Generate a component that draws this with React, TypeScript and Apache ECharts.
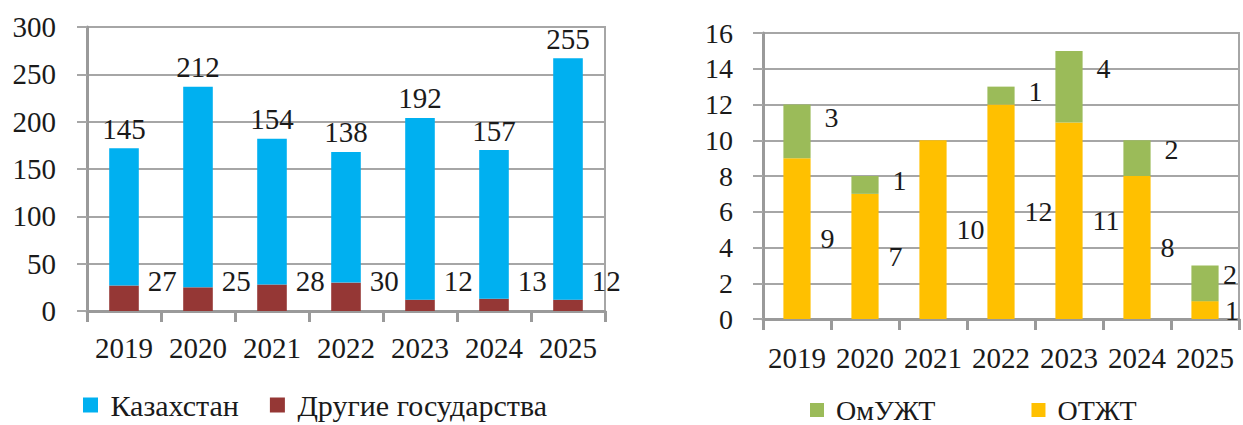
import React, { useEffect, useRef } from "react";
import * as echarts from "echarts";

const years = ["2019", "2020", "2021", "2022", "2023", "2024", "2025"];
const kazakhstan = [145, 212, 154, 138, 192, 157, 255];
const otherStates = [27, 25, 28, 30, 12, 13, 12];
const otzht = [9, 7, 10, 12, 11, 8, 1];
const omuzht = [3, 1, 0, 1, 4, 2, 2];

const FONT = "'Liberation Serif', 'Times New Roman', serif";
const GRID_COLOR = "#a6a6a6";
const AXIS_COLOR = "#9a9a9a";
const TXT = "#1a1a1a";

export default function App() {
  const ref = useRef<HTMLDivElement>(null);
  useEffect(() => {
    document.body.style.margin = "0";
    const chart = echarts.init(ref.current!, null, { renderer: "svg" });
    const axisLabel = { color: TXT, fontFamily: FONT, fontSize: 29 };
    const catAxis = (gridIndex: number, margin: number) => ({
      type: "category",
      gridIndex,
      data: years,
      axisLine: { lineStyle: { color: AXIS_COLOR, width: 3 } },
      axisTick: { show: true, length: 11, lineStyle: { color: AXIS_COLOR, width: 3 } },
      axisLabel: { ...axisLabel, margin, interval: 0 },
    });
    const valAxis = (gridIndex: number, max: number, interval: number, margin: number, fontSize: number) => ({
      type: "value",
      gridIndex,
      min: 0,
      max,
      interval,
      axisLine: { show: true, lineStyle: { color: AXIS_COLOR, width: 3 } },
      axisTick: { show: true, length: 10, lineStyle: { color: GRID_COLOR, width: 2 } },
      splitLine: { lineStyle: { color: GRID_COLOR, width: 2 } },
      axisLabel: { ...axisLabel, fontSize, margin },
    });
    const lbl = { color: TXT, fontFamily: FONT, fontSize: 29 };
    chart.setOption({
      animation: false,
      textStyle: { fontFamily: FONT },
      grid: [
        { left: 87, right: 638, top: 27, bottom: 114, show: true, borderColor: GRID_COLOR, borderWidth: 2 },
        { left: 763, right: 4, top: 33, bottom: 106, show: true, borderColor: GRID_COLOR, borderWidth: 2 },
      ],
      xAxis: [catAxis(0, 22), catAxis(1, 24)],
      yAxis: [valAxis(0, 300, 50, 31, 29), valAxis(1, 16, 2, 30, 28)],
      legend: [
        {
          data: ["Казахстан", "Другие государства"],
          left: 83,
          top: 390,
          padding: 0,
          itemWidth: 15,
          itemHeight: 15,
          itemGap: 31,
          icon: "rect",
          formatter: (n: string) => " " + n,
          textStyle: { color: TXT, fontFamily: FONT, fontSize: 30 },
        },
        {
          data: ["ОмУЖТ", "ОТЖТ"],
          left: 810,
          top: 396,
          padding: 0,
          itemWidth: 14,
          itemHeight: 14,
          itemGap: 96,
          icon: "rect",
          formatter: (n: string) => " " + n,
          textStyle: { color: TXT, fontFamily: FONT, fontSize: 28 },
        },
      ],
      series: [
        {
          name: "Другие государства",
          type: "bar",
          stack: "a",
          xAxisIndex: 0,
          yAxisIndex: 0,
          barWidth: "40%",
          data: otherStates,
          itemStyle: { color: "#953735" },
          label: { show: true, ...lbl },
          labelLayout: (p: any) => ({
            x: p.rect.x + p.rect.width + 9,
            y: p.rect.y + p.rect.height - 30,
            align: "left",
            verticalAlign: "middle",
          }),
        },
        {
          name: "Казахстан",
          type: "bar",
          stack: "a",
          xAxisIndex: 0,
          yAxisIndex: 0,
          barWidth: "40%",
          data: kazakhstan,
          itemStyle: { color: "#00b0f0" },
          label: { show: true, position: "top", distance: 5, ...lbl },
        },
        {
          name: "ОТЖТ",
          type: "bar",
          stack: "b",
          xAxisIndex: 1,
          yAxisIndex: 1,
          barWidth: "40%",
          data: otzht,
          itemStyle: { color: "#ffc000" },
          label: { show: true, ...lbl, fontSize: 28 },
          labelLayout: (p: any) => ({
            x: Math.min(p.rect.x + p.rect.width + 10, chart.getWidth() - p.labelRect.width - 4),
            y: p.rect.y + p.rect.height / 2,
            align: "left",
            verticalAlign: "middle",
          }),
        },
        {
          name: "ОмУЖТ",
          type: "bar",
          stack: "b",
          xAxisIndex: 1,
          yAxisIndex: 1,
          barWidth: "40%",
          data: omuzht,
          itemStyle: { color: "#9bbb59" },
          label: {
            show: true,
            ...lbl,
            fontSize: 28,
            formatter: (p: any) => (p.value ? String(p.value) : ""),
          },
          labelLayout: (p: any) => ({
            x: Math.min(p.rect.x + p.rect.width + 14, chart.getWidth() - p.labelRect.width - 6),
            y: p.rect.y + p.rect.height * 0.25,
            align: "left",
            verticalAlign: "middle",
          }),
        },
      ],
    });
    return () => chart.dispose();
  }, []);
  return <div ref={ref} style={{ width: 1243, height: 425 }} />;
}
